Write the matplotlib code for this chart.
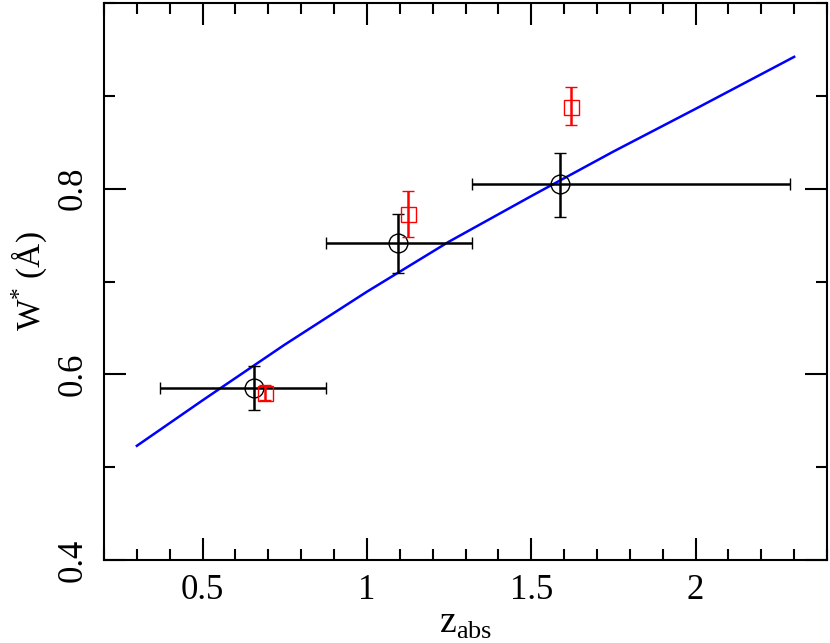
import matplotlib
matplotlib.use("Agg")
import matplotlib.pyplot as plt
from matplotlib.ticker import MultipleLocator

plt.rcParams['font.family'] = ['Liberation Serif', 'DejaVu Serif']
plt.rcParams['mathtext.fontset'] = 'custom'
plt.rcParams['mathtext.rm'] = 'Liberation Serif'

# binned points (circles)
z_bin = [0.657, 1.096, 1.589]
w_bin = [0.585, 0.741, 0.805]
z_lo = [0.369, 0.877, 1.32]
z_hi = [0.875, 1.32, 2.286]
w_lo = [0.562, 0.709, 0.770]
w_hi = [0.609, 0.773, 0.838]

# second sample (squares)
z_sq = [0.689, 1.126, 1.62]
w_sq = [0.580, 0.773, 0.888]
w_sq_lo = [0.572, 0.748, 0.869]
w_sq_hi = [0.588, 0.798, 0.909]

# model curve
z_fit = [0.3, 0.5, 0.75, 1.0, 1.25, 1.5, 1.75, 2.0, 2.3]
w_fit = [0.523, 0.572, 0.632, 0.689, 0.743, 0.792, 0.840, 0.886, 0.942]

fig = plt.figure(figsize=(8.3, 6.43), dpi=100)
ax = fig.add_axes([0.1253, 0.1291, 0.8711, 0.8662])

ax.plot(z_fit, w_fit, color="blue", lw=1.8, zorder=2)

xerr = [[c - l for c, l in zip(z_bin, z_lo)], [h - c for c, h in zip(z_bin, z_hi)]]
yerr = [[c - l for c, l in zip(w_bin, w_lo)], [h - c for c, h in zip(w_bin, w_hi)]]
ax.errorbar(z_bin, w_bin, xerr=xerr, yerr=yerr, fmt='o', mfc='none', mec='black',
            ms=13.5, mew=1.0, ecolor='black', elinewidth=1.8, capsize=4.5,
            capthick=1.8, zorder=3)

yerr_sq = [[c - l for c, l in zip(w_sq, w_sq_lo)], [h - c for c, h in zip(w_sq, w_sq_hi)]]
ax.errorbar(z_sq, w_sq, yerr=yerr_sq, fmt='s', mfc='none', mec='red', ms=10.8,
            mew=1.0, ecolor='red', elinewidth=1.8, capsize=4.5, capthick=1.8, zorder=4)

ax.set_xlim(0.2, 2.4)
ax.set_ylim(0.4, 1.0)
ax.xaxis.set_minor_locator(MultipleLocator(0.1))
ax.yaxis.set_minor_locator(MultipleLocator(0.1))
ax.set_xticks([0.5, 1, 1.5, 2])
ax.set_xticklabels(["0.5", "1", "1.5", "2"])
ax.set_yticks([0.4, 0.6, 0.8])
ax.set_yticklabels(["0.4", "0.6", "0.8"], rotation=90, va='center')

ax.tick_params(which='both', direction='in', top=True, right=True, width=1.5)
ax.tick_params(which='major', length=16, labelsize=25, pad=10)
ax.tick_params(which='minor', length=8)
for s in ax.spines.values():
    s.set_linewidth(1.5)

ax.set_xlabel(r"z$_{\rm abs}$", fontsize=27, labelpad=0)
ax.set_ylabel(r"W$^{*}$ (Å)", fontsize=24, labelpad=6)

plt.savefig("out.png", dpi=100)
